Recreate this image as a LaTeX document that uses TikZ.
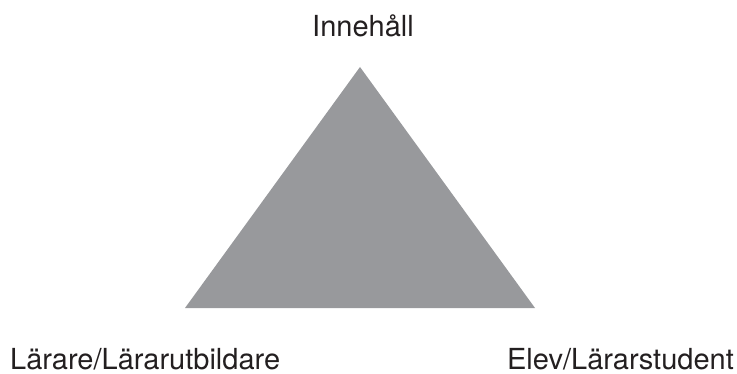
\documentclass[tikz,border=0pt]{standalone}
\usepackage{fontspec}
\setmainfont{TeX Gyre Heros}
\definecolor{trigrey}{HTML}{98999C}
\definecolor{txt}{HTML}{231F20}
\begin{document}
\begin{tikzpicture}[x=1pt,y=1pt,
  lbl/.style={font=\fontsize{29}{32}\selectfont, text=txt, inner sep=0pt}]
\useasboundingbox (0,0) rectangle (737,373);
\coordinate (apex) at (360,306);
\coordinate (bl) at (185,65);
\coordinate (br) at (535,65);
\fill[trigrey] (apex) -- (br) -- (bl) -- cycle;
\node[lbl, anchor=base] (top) at (363,336) {Innehåll};
\node[lbl, anchor=base west] (left) at (10,3.5) {Lärare/Lärarutbildare};
\node[lbl, anchor=base east] (right) at (734,3.5) {Elev/Lärarstudent};
\end{tikzpicture}
\end{document}
